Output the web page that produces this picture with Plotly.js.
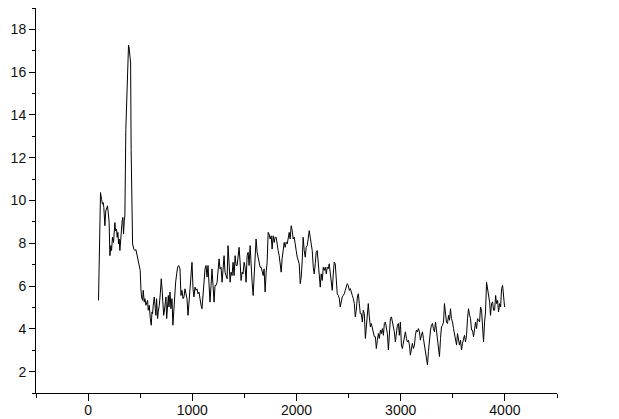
<!DOCTYPE html>
<html>
<head>
<meta charset="utf-8">
<script src="https://cdn.plot.ly/plotly-3.0.1.min.js"></script>
<style>html,body{margin:0;padding:0;background:#fff;}#chart{width:619px;height:419px;}</style>
</head>
<body>
<div id="chart"></div>
<script>
// Segment 1: start, early plateau and spike
const xSeg1 = [100,106,119,129,138,145,151,161,170,180,186,193,202,209,218,225,234,244,250,257,263,273,279,286,292,298,305,311,321,327,334,340,347,353,362,379,388,394,408,413,418,422,427,439,449,459,472,481,491,500,507,513,523,529,539,545,555,561,571,577,587,597,606,613,619,625,635,645,651,657,667,673,683,693,702,712,718,725,731,741,747,754,760,770,776,786,795,805,814,821,830,840,850,859,869];
const ySeg1 = [5.33,7.81,10.37,10.06,9.83,9.90,9.67,8.82,9.52,9.67,9.75,9.44,8.97,7.42,7.89,7.66,8.28,8.04,8.82,8.97,8.59,8.66,8.28,8.51,7.97,8.20,7.66,8.20,8.51,9.05,9.21,8.43,9.05,9.28,13.32,16.43,17.27,17.13,16.43,12.39,9.13,8.04,7.97,7.73,7.66,7.70,7.42,7.27,6.96,6.73,5.87,5.49,5.33,5.80,5.25,5.41,5.10,5.18,5.33,4.87,5.10,4.48,4.17,4.79,4.71,5.10,5.49,4.94,4.63,5.41,4.48,4.79,5.10,5.64,6.34,5.72,5.10,4.63,4.79,5.25,5.49,4.48,5.10,5.56,5.02,5.72,4.94,5.41,4.17,4.79,5.87,6.18,6.57,6.88,6.96];

// Segment 2: slow rise to the broad hump
const xSeg2 = [882,891,901,911,920,930,939,949,959,968,978,988,997,1007,1016,1026,1036,1045,1055,1064,1074,1084,1093,1103,1113,1122,1132,1141,1151,1161,1170,1180,1189,1199,1209,1218,1228,1238,1247,1257,1266,1276,1286,1295,1305,1314,1324,1334,1343,1353,1363,1372,1382,1391,1401,1411,1420,1430,1439,1449,1459,1468,1478,1487,1497,1507,1516,1526,1536,1545,1555,1564,1574,1584,1593,1603,1612,1622,1632,1641,1651,1661,1670,1680,1689,1699,1709,1718,1728,1737,1747,1757,1766,1776,1786,1795,1805,1814,1824,1834,1843,1853,1862,1872,1882];
const ySeg2 = [6.80,5.56,5.80,5.41,5.49,5.87,5.56,5.41,4.63,5.25,5.87,6.34,7.11,5.87,5.49,5.95,5.80,5.87,5.64,5.72,5.33,5.10,4.94,5.56,6.34,6.80,6.96,6.42,6.96,6.03,5.25,6.03,6.80,6.03,5.25,6.03,6.03,6.18,6.65,7.27,6.80,6.88,6.18,6.96,7.42,6.65,6.49,6.34,7.89,7.11,6.18,6.65,6.49,7.11,6.49,7.42,6.96,6.96,7.27,7.81,7.11,6.26,6.65,6.57,7.11,6.88,6.18,7.42,7.58,6.96,7.89,6.65,6.18,5.56,6.34,6.80,8.20,7.58,7.27,7.11,6.88,6.88,6.65,6.49,6.80,5.72,6.65,7.11,8.51,8.43,8.20,8.35,7.73,8.35,8.04,8.28,8.28,7.89,7.66,7.42,7.11,6.65,7.27,7.58,8.04];

// Segment 3: hump top and decline
const xSeg3 = [1891,1901,1911,1920,1930,1939,1949,1959,1968,1978,1988,1997,2007,2016,2026,2036,2045,2055,2064,2074,2084,2093,2103,2112,2122,2132,2141,2151,2161,2170,2180,2189,2199,2209,2218,2228,2237,2247,2257,2266,2276,2286,2295,2305,2314,2324,2334,2343,2353,2362,2372,2382,2391,2401,2411,2420,2430,2439,2449,2459,2468,2478,2487,2497,2507,2516,2526,2536,2545,2555,2564,2574,2584,2593,2603,2612,2622,2632,2641,2651,2661,2670,2680,2689,2699,2709,2718,2728,2737,2747,2757,2766,2776,2786,2795,2805,2814,2824,2834,2843,2853,2862,2872,2882,2891];
const ySeg3 = [7.81,8.05,7.97,8.28,8.51,8.20,8.82,8.59,8.20,8.28,7.81,7.66,7.35,7.12,7.04,6.11,6.42,7.19,8.28,7.66,7.35,7.81,7.89,8.20,8.59,8.28,7.97,7.66,6.88,6.57,7.04,7.58,7.66,7.12,6.88,5.95,6.57,6.26,6.88,6.73,6.88,6.57,6.88,6.81,7.04,6.49,6.26,5.80,6.57,7.12,7.04,6.26,5.64,5.56,5.41,5.02,5.33,5.49,5.56,5.64,5.80,6.03,6.11,6.03,5.80,5.88,5.64,5.56,5.41,5.18,4.56,4.87,5.49,5.64,5.18,4.71,4.71,4.32,4.87,4.71,3.55,4.25,5.02,5.18,4.56,4.09,4.25,4.01,3.94,3.63,3.63,3.08,3.47,3.78,3.55,3.94,3.78,4.01,3.70,4.25,4.32,4.01,3.78,3.01,3.94];

// Segment 4: trough and final rise
const xSeg4 = [2901,2911,2920,2930,2939,2949,2959,2968,2978,2987,2997,3007,3016,3026,3036,3045,3055,3064,3074,3084,3093,3103,3112,3122,3132,3141,3151,3161,3170,3180,3189,3199,3209,3218,3228,3237,3247,3257,3266,3276,3286,3295,3305,3314,3324,3334,3343,3353,3362,3372,3382,3391,3401,3411,3420,3430,3439,3449,3459,3468,3478,3487,3497,3507,3516,3526,3536,3545,3555,3564,3574,3584,3593,3603,3612,3622,3632,3641,3651,3661,3670,3680,3689,3699,3709,3718,3728,3737,3747,3757,3766,3776,3786,3795,3805,3814,3824,3834,3843,3853,3862,3872,3882,3891,3901,3911,3920,3930,3939,3949,3959,3968,3978,3987,3997];
const ySeg4 = [4.48,4.56,4.32,4.09,3.86,3.39,4.01,4.17,4.25,3.70,4.32,3.24,3.08,3.32,3.70,3.86,3.55,3.39,3.47,3.24,2.77,3.16,3.32,3.08,3.24,3.70,3.94,3.86,4.01,3.86,3.47,3.70,3.86,3.55,3.16,3.01,2.70,2.31,2.93,3.70,3.94,4.17,4.25,4.01,3.86,4.32,3.94,3.55,3.01,2.70,3.55,4.09,4.17,4.32,5.18,4.79,4.32,4.25,4.63,4.40,4.94,4.48,4.32,4.01,3.70,3.47,3.24,3.78,3.55,3.24,3.47,3.01,3.32,3.55,3.70,3.39,3.70,4.48,4.94,4.63,4.48,3.94,3.94,3.63,4.17,4.32,4.01,4.48,4.40,4.32,5.02,4.87,4.09,3.39,4.32,4.79,6.18,5.88,5.64,5.26,4.63,5.18,5.26,4.87,4.87,5.56,5.18,5.33,4.79,5.18,5.02,5.88,6.03,5.64,5.02];

const xTicks = [0, 1000, 2000, 3000, 4000];
const yTicks = [2, 4, 6, 8, 10, 12, 14, 16, 18];

const xs = xSeg1.concat(xSeg2, xSeg3, xSeg4);
const ys = ySeg1.concat(ySeg2, ySeg3, ySeg4);

const trace = {
  x: xs, y: ys, type: 'scatter', mode: 'lines',
  line: {color: '#000000', width: 1},
  hoverinfo: 'skip'
};

const axisCommon = {
  showgrid: false, zeroline: false, showline: true,
  linecolor: '#000000', linewidth: 1,
  ticks: 'outside', tickcolor: '#000000', tickwidth: 1,
  tickfont: {family: 'Liberation Sans, Arial, sans-serif', size: 14, color: '#111111'}
};

const layout = {
  width: 619, height: 419,
  margin: {l: 36, r: 62, t: 8, b: 26, pad: 0},
  paper_bgcolor: '#ffffff', plot_bgcolor: '#ffffff',
  showlegend: false,
  xaxis: Object.assign({}, axisCommon, {
    range: [-500, 4500], tickmode: 'array', tickvals: xTicks,
    ticktext: xTicks.map(String), ticklen: 7, ticklabelstandoff: -3,
    minor: {dtick: 500, tick0: 0, ticks: 'outside', ticklen: 4, tickcolor: '#000000', showgrid: false}
  }),
  yaxis: Object.assign({}, axisCommon, {
    range: [1, 19], tickmode: 'array', tickvals: yTicks,
    ticktext: yTicks.map(String), ticklen: 6,
    minor: {dtick: 1, tick0: 0, ticks: 'outside', ticklen: 3, tickcolor: '#000000', showgrid: false}
  })
};

Plotly.newPlot('chart', [trace], layout, {displayModeBar: false, staticPlot: true});
</script>
</body>
</html>
